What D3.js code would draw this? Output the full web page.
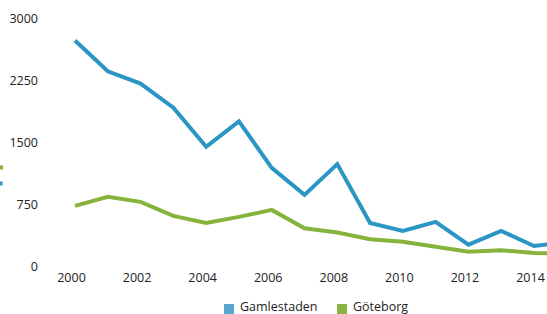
<!DOCTYPE html>
<html>
<head>
<meta charset="utf-8">
<script src="https://cdn.jsdelivr.net/npm/d3@7"></script>
<style>
  body { margin: 0; background: #fff; }
  svg { display: block; font-family: "Open Sans", sans-serif; }
</style>
</head>
<body>
<div id="chart"></div>
<script>
// Years and values (2015 runs past the right edge)
const years = [2000, 2001, 2002, 2003, 2004, 2005, 2006, 2007, 2008, 2009, 2010, 2011, 2012, 2013, 2014, 2015];
const gamlestaden = [2733, 2360, 2211, 1919, 1445, 1753, 1190, 862, 1235, 522, 425, 534, 259, 425, 243, 290];
const goteborg = [729, 838, 777, 607, 522, 595, 680, 458, 405, 324, 295, 234, 174, 191, 158, 150];
const yTicks = [0, 750, 1500, 2250, 3000];
const xTicks = [2000, 2002, 2004, 2006, 2008, 2010, 2012, 2014];
const seriesNames = ["Gamlestaden", "Göteborg"];
const lineColors = ["#2b95c4", "#86b33c"];
const legendColors = ["#5aa5d0", "#8ab43f"];

function drawChart() {
  const width = 547, height = 314;

  const svg = d3.select("#chart")
      .append("svg")
      .attr("width", width)
      .attr("height", height);

  const x = d3.scaleLinear()
      .domain([2000, 2014])
      .range([75, 534]);

  const y = d3.scaleLinear()
      .domain([0, 3000])
      .range([266, 18.5]);

  // Y axis labels only, no lines
  const yAxis = svg.append("g")
      .attr("transform", "translate(38,0)")
      .call(d3.axisLeft(y).tickValues(yTicks).tickSize(0).tickPadding(0).tickFormat(d3.format("d")));
  yAxis.select(".domain").remove();
  yAxis.selectAll("text")
      .attr("font-size", 12.5)
      .attr("font-family", "Open Sans, sans-serif")
      .attr("fill", "#222");

  // X axis labels
  const xAxis = svg.append("g")
      .attr("transform", "translate(-4,273)")
      .call(d3.axisBottom(x).tickValues(xTicks).tickSize(0).tickPadding(0).tickFormat(d3.format("d")));
  xAxis.select(".domain").remove();
  xAxis.selectAll("text")
      .attr("font-size", 12.5)
      .attr("font-family", "Open Sans, sans-serif")
      .attr("fill", "#222");

  const series = [gamlestaden, goteborg];

  // Lines: draw green first so blue sits on top
  [1, 0].forEach(i => {
    const line = d3.line()
        .x((d, j) => x(years[j]))
        .y(d => y(d));
    svg.append("path")
        .datum(series[i])
        .attr("d", line)
        .attr("fill", "none")
        .attr("stroke", lineColors[i])
        .attr("stroke-width", 4)
        .attr("stroke-linejoin", "miter");
  });

  // Clipped bits of a legend at the left edge
  svg.append("rect").attr("x", -6).attr("y", 165.5).attr("width", 9).attr("height", 4).attr("fill", lineColors[1]);
  svg.append("rect").attr("x", -6).attr("y", 181.5).attr("width", 8.5).attr("height", 4).attr("fill", lineColors[0]);

  // Bottom legend
  const legendX = [224, 337];
  const legend = svg.append("g");
  seriesNames.forEach((name, i) => {
    legend.append("rect")
        .attr("x", legendX[i])
        .attr("y", 304)
        .attr("width", 10)
        .attr("height", 10)
        .attr("fill", legendColors[i]);
    legend.append("text")
        .attr("x", legendX[i] + 16)
        .attr("y", 310.5)
        .attr("font-size", 12.5)
        .attr("fill", "#222")
        .text(name);
  });
}

drawChart();
</script>
</body>
</html>
